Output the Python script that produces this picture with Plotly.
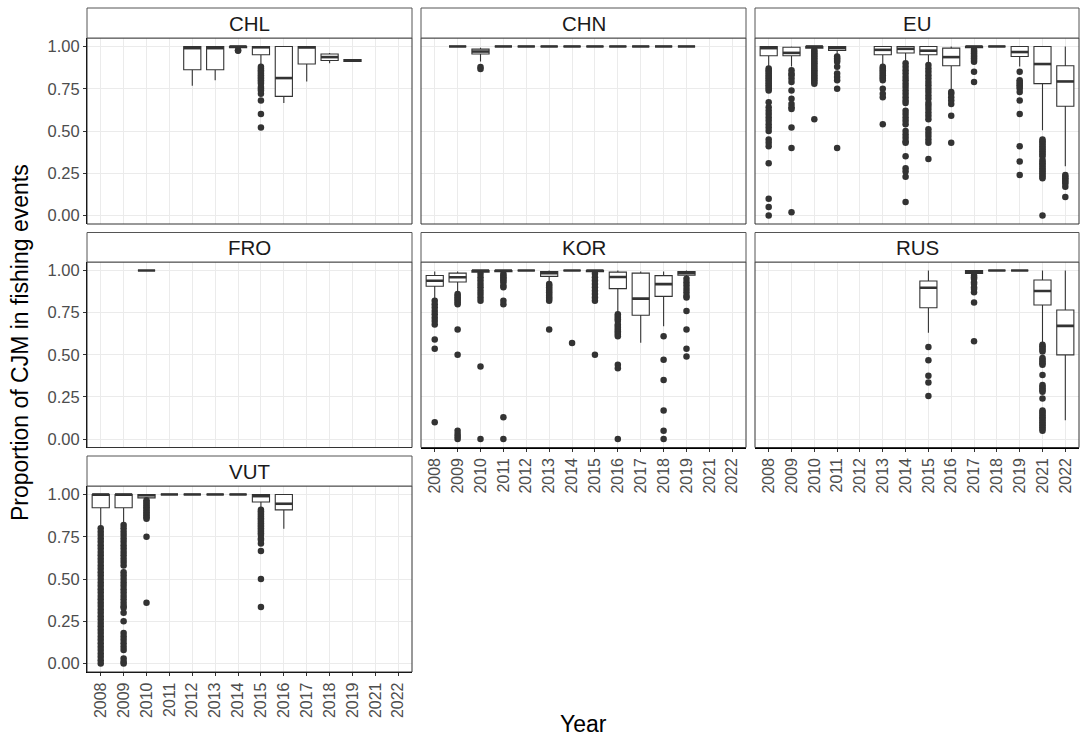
import plotly.graph_objects as go

# ---- data: proportion of CJM in fishing events, by flag and year ----
YEARS = ["2008", "2009", "2010", "2011", "2012", "2013", "2014",
         "2015", "2016", "2017", "2018", "2019", "2021", "2022"]
Y_TICKS = [0.0, 0.25, 0.5, 0.75, 1.0]

CHL_YEARS = ["2012", "2013", "2014", "2015", "2016", "2017", "2018", "2019"]
CHL_Q1 = [0.862, 0.862, 0.993, 0.951, 0.705, 0.896, 0.917, 0.912]
CHL_MED = [0.990, 0.990, 1.000, 0.995, 0.813, 0.994, 0.937, 0.917]
CHL_Q3 = [1.000, 1.000, 1.000, 1.000, 1.000, 1.000, 0.955, 0.922]
CHL_LO = [0.768, 0.800, 0.990, 0.892, 0.665, 0.793, 0.900, 0.912]
CHL_HI = [1.000, 1.000, 1.000, 1.000, 1.000, 1.000, 0.962, 0.922]
CHL_OUT = {
    "2014": [0.978, 0.975],
    "2015": [0.88, 0.87, 0.86, 0.85, 0.84, 0.83, 0.82, 0.81, 0.80, 0.79,
             0.78, 0.76, 0.75, 0.74, 0.72, 0.68, 0.60, 0.52],
}

CHN_YEARS = ["2009", "2010", "2011", "2012", "2013", "2014", "2015",
             "2016", "2017", "2018", "2019"]
CHN_Q1 = [1.0, 0.955, 1.0, 1.0, 1.0, 1.0, 1.0, 1.0, 1.0, 1.0, 1.0]
CHN_MED = [1.0, 0.970, 1.0, 1.0, 1.0, 1.0, 1.0, 1.0, 1.0, 1.0, 1.0]
CHN_Q3 = [1.0, 0.984, 1.0, 1.0, 1.0, 1.0, 1.0, 1.0, 1.0, 1.0, 1.0]
CHN_LO = [1.0, 0.911, 1.0, 1.0, 1.0, 1.0, 1.0, 1.0, 1.0, 1.0, 1.0]
CHN_HI = [1.0, 0.992, 1.0, 1.0, 1.0, 1.0, 1.0, 1.0, 1.0, 1.0, 1.0]
CHN_OUT = {"2010": [0.878, 0.866]}

EU_YEARS = ["2008", "2009", "2010", "2011", "2013", "2014", "2015",
            "2016", "2017", "2018", "2019", "2021", "2022"]
EU_Q1 = [0.945, 0.945, 0.990, 0.976, 0.951, 0.961, 0.951, 0.886, 0.992, 1.0, 0.941, 0.780, 0.646]
EU_MED = [0.990, 0.962, 1.000, 0.990, 0.980, 0.986, 0.975, 0.937, 1.000, 1.0, 0.967, 0.896, 0.793]
EU_Q3 = [1.000, 0.995, 1.000, 1.000, 1.000, 1.000, 1.000, 0.990, 1.000, 1.0, 1.000, 1.000, 0.886]
EU_LO = [0.882, 0.882, 0.985, 0.951, 0.892, 0.911, 0.900, 0.744, 0.985, 1.0, 0.882, 0.504, 0.291]
EU_HI = [1.0, 1.0, 1.0, 1.0, 1.0, 1.0, 1.0, 1.0, 1.0, 1.0, 1.0, 1.0, 1.0]
EU_OUT = {
    "2008": [0.87, 0.86, 0.85, 0.84, 0.83, 0.82, 0.81, 0.80, 0.79, 0.78, 0.77,
             0.76, 0.75, 0.74, 0.67, 0.64, 0.62, 0.60, 0.58, 0.56, 0.54, 0.52,
             0.50, 0.45, 0.43, 0.41, 0.31, 0.10, 0.05, 0.0],
    "2009": [0.86, 0.84, 0.83, 0.81, 0.79, 0.74, 0.69, 0.66, 0.64, 0.63,
             0.52, 0.40, 0.02],
    "2010": [0.98, 0.97, 0.96, 0.95, 0.94, 0.93, 0.92, 0.91, 0.90, 0.89, 0.88,
             0.87, 0.86, 0.85, 0.84, 0.83, 0.82, 0.81, 0.80, 0.79, 0.78, 0.57],
    "2011": [0.94, 0.93, 0.92, 0.91, 0.88, 0.84, 0.82, 0.80, 0.75, 0.40],
    "2013": [0.88, 0.87, 0.86, 0.85, 0.84, 0.83, 0.82, 0.81, 0.80, 0.75,
             0.72, 0.70, 0.54],
    "2014": [0.90, 0.88, 0.86, 0.84, 0.82, 0.80, 0.78, 0.76, 0.74, 0.72, 0.70,
             0.68, 0.665, 0.62, 0.60, 0.58, 0.56, 0.54, 0.50, 0.48, 0.46, 0.44,
             0.43, 0.35, 0.28, 0.26, 0.23, 0.08],
    "2015": [0.89, 0.87, 0.85, 0.83, 0.81, 0.79, 0.77, 0.75, 0.73, 0.71, 0.69,
             0.665, 0.65, 0.63, 0.61, 0.59, 0.57, 0.51, 0.49, 0.47, 0.45, 0.43,
             0.335],
    "2016": [0.73, 0.72, 0.70, 0.68, 0.66, 0.59, 0.43],
    "2017": [0.98, 0.97, 0.96, 0.95, 0.94, 0.93, 0.92, 0.91, 0.85, 0.79],
    "2019": [0.85, 0.80, 0.79, 0.78, 0.77, 0.76, 0.75, 0.73, 0.68, 0.60,
             0.41, 0.32, 0.24],
    "2021": [0.45, 0.44, 0.43, 0.42, 0.41, 0.40, 0.39, 0.38, 0.37, 0.36, 0.35,
             0.33, 0.32, 0.31, 0.30, 0.29, 0.28, 0.27, 0.26, 0.25, 0.24, 0.23,
             0.22, 0.0],
    "2022": [0.24, 0.23, 0.22, 0.21, 0.20, 0.19, 0.17, 0.11],
}

FRO_YEARS = ["2010"]
FRO_Q1 = [1.0]
FRO_MED = [1.0]
FRO_Q3 = [1.0]
FRO_LO = [1.0]
FRO_HI = [1.0]
FRO_OUT = {}

KOR_YEARS = ["2008", "2009", "2010", "2011", "2012", "2013", "2014",
             "2015", "2016", "2017", "2018", "2019"]
KOR_Q1 = [0.906, 0.931, 0.990, 0.992, 1.0, 0.965, 1.0, 0.992, 0.892, 0.734, 0.846, 0.972]
KOR_MED = [0.939, 0.960, 1.000, 1.000, 1.0, 0.984, 1.0, 1.000, 0.961, 0.833, 0.919, 0.985]
KOR_Q3 = [0.970, 0.984, 1.000, 1.000, 1.0, 0.994, 1.0, 1.000, 0.990, 0.984, 0.969, 0.994]
KOR_LO = [0.827, 0.876, 0.985, 0.985, 1.0, 0.925, 1.0, 0.985, 0.738, 0.571, 0.669, 0.955]
KOR_HI = [0.994, 0.994, 1.000, 1.000, 1.0, 1.000, 1.0, 1.000, 1.000, 0.994, 0.994, 1.000]
KOR_OUT = {
    "2008": [0.82, 0.80, 0.78, 0.76, 0.74, 0.72, 0.70, 0.68, 0.59, 0.535, 0.10],
    "2009": [0.86, 0.85, 0.84, 0.83, 0.82, 0.81, 0.80, 0.65, 0.50, 0.05,
             0.03, 0.015, 0.0],
    "2010": [0.98, 0.96, 0.94, 0.92, 0.90, 0.88, 0.86, 0.84, 0.82, 0.43, 0.0],
    "2011": [0.98, 0.97, 0.96, 0.95, 0.94, 0.93, 0.91, 0.90, 0.82, 0.80,
             0.13, 0.0],
    "2013": [0.92, 0.91, 0.90, 0.89, 0.88, 0.87, 0.86, 0.85, 0.84, 0.83,
             0.82, 0.65],
    "2014": [0.57],
    "2015": [0.98, 0.96, 0.94, 0.92, 0.90, 0.88, 0.86, 0.84, 0.82, 0.50],
    "2016": [0.74, 0.73, 0.72, 0.71, 0.70, 0.68, 0.67, 0.66, 0.65, 0.64,
             0.63, 0.62, 0.61, 0.44, 0.42, 0.0],
    "2018": [0.61, 0.47, 0.35, 0.17, 0.05, 0.0],
    "2019": [0.95, 0.93, 0.91, 0.89, 0.87, 0.85, 0.84, 0.76, 0.65, 0.535, 0.49],
}

RUS_YEARS = ["2015", "2017", "2018", "2019", "2021", "2022"]
RUS_Q1 = [0.779, 0.982, 1.0, 1.0, 0.795, 0.499]
RUS_MED = [0.897, 0.993, 1.0, 1.0, 0.878, 0.671]
RUS_Q3 = [0.937, 1.000, 1.0, 1.0, 0.943, 0.765]
RUS_LO = [0.631, 0.975, 1.0, 1.0, 0.572, 0.112]
RUS_HI = [1.0, 1.0, 1.0, 1.0, 1.0, 1.0]
RUS_OUT = {
    "2015": [0.546, 0.467, 0.375, 0.335, 0.256],
    "2017": [0.97, 0.96, 0.95, 0.93, 0.92, 0.90, 0.89, 0.87, 0.81, 0.58],
    "2021": [0.56, 0.55, 0.54, 0.53, 0.52, 0.48, 0.47, 0.46, 0.45, 0.44,
             0.38, 0.32, 0.31, 0.30, 0.29, 0.28, 0.24, 0.17, 0.16, 0.15,
             0.14, 0.13, 0.12, 0.11, 0.10, 0.09, 0.08, 0.07, 0.06, 0.05],
}

VUT_YEARS = ["2008", "2009", "2010", "2011", "2012", "2013", "2014", "2015", "2016"]
VUT_Q1 = [0.921, 0.921, 0.980, 1.0, 1.0, 1.0, 1.0, 0.955, 0.909]
VUT_MED = [1.000, 1.000, 0.995, 1.0, 1.0, 1.0, 1.0, 0.990, 0.945]
VUT_Q3 = [1.000, 1.000, 1.000, 1.0, 1.0, 1.0, 1.0, 1.000, 1.000]
VUT_LO = [0.803, 0.815, 0.968, 1.0, 1.0, 1.0, 1.0, 0.921, 0.797]
VUT_HI = [1.0, 1.0, 1.0, 1.0, 1.0, 1.0, 1.0, 1.0, 1.0]
VUT_OUT = {
    "2008": [0.80, 0.78, 0.76, 0.74, 0.72, 0.70, 0.68, 0.66, 0.64, 0.62, 0.60,
             0.58, 0.56, 0.54, 0.52, 0.50, 0.48, 0.46, 0.44, 0.42, 0.40, 0.38,
             0.36, 0.34, 0.32, 0.30, 0.28, 0.26, 0.24, 0.22, 0.20, 0.18, 0.16,
             0.14, 0.12, 0.10, 0.08, 0.06, 0.04, 0.02, 0.00],
    "2009": [0.82, 0.80, 0.78, 0.76, 0.74, 0.72, 0.70, 0.68, 0.66, 0.64, 0.62,
             0.60, 0.58, 0.54, 0.52, 0.50, 0.48, 0.46, 0.44, 0.42, 0.40, 0.38,
             0.36, 0.34, 0.33, 0.30, 0.25, 0.18, 0.16, 0.14, 0.12, 0.10, 0.08,
             0.03, 0.01, 0.00],
    "2010": [0.965, 0.955, 0.945, 0.935, 0.925, 0.915, 0.905, 0.895, 0.885,
             0.875, 0.865, 0.856, 0.75, 0.36],
    "2015": [0.91, 0.90, 0.89, 0.88, 0.87, 0.86, 0.85, 0.84, 0.83, 0.82, 0.81,
             0.80, 0.79, 0.78, 0.77, 0.76, 0.74, 0.73, 0.71, 0.665, 0.50, 0.335],
}

# facet name, stats, grid cell (row, col)
PANELS = [
    ("CHL", CHL_YEARS, CHL_Q1, CHL_MED, CHL_Q3, CHL_LO, CHL_HI, CHL_OUT, 0, 0),
    ("CHN", CHN_YEARS, CHN_Q1, CHN_MED, CHN_Q3, CHN_LO, CHN_HI, CHN_OUT, 0, 1),
    ("EU", EU_YEARS, EU_Q1, EU_MED, EU_Q3, EU_LO, EU_HI, EU_OUT, 0, 2),
    ("FRO", FRO_YEARS, FRO_Q1, FRO_MED, FRO_Q3, FRO_LO, FRO_HI, FRO_OUT, 1, 0),
    ("KOR", KOR_YEARS, KOR_Q1, KOR_MED, KOR_Q3, KOR_LO, KOR_HI, KOR_OUT, 1, 1),
    ("RUS", RUS_YEARS, RUS_Q1, RUS_MED, RUS_Q3, RUS_LO, RUS_HI, RUS_OUT, 1, 2),
    ("VUT", VUT_YEARS, VUT_Q1, VUT_MED, VUT_Q3, VUT_LO, VUT_HI, VUT_OUT, 2, 0),
]

# ---- layout geometry (pixels in a 1080 x 740 page) ----
W, H = 1080, 740
COL_X = [(87, 412), (421, 746), (755, 1079)]
ROW_STRIP = [(8, 38), (232.5, 262), (456, 486)]
ROW_PANEL = [(38, 224), (262, 447.5), (486, 672)]
BOX_W = 0.75                       # box width, in category units
CAT_PX = (COL_X[0][1] - COL_X[0][0]) / (len(YEARS) + 0.2)

FONT = "Liberation Sans, Arial, sans-serif"
INK = "#333333"
TICK_TXT = "#4d4d4d"
GRID = "#ebebeb"


def px_x(v):
    return v / W


def px_y(v):
    return 1 - v / H


fig = go.Figure()
layout = dict(
    width=W, height=H,
    margin=dict(l=0, r=0, t=0, b=0),
    paper_bgcolor="white", plot_bgcolor="white",
    showlegend=False,
    font=dict(family=FONT, color="#1a1a1a"),
)
shapes, annotations = [], []

# panels that carry axes (facet_wrap style)
X_AXIS_PANELS = {"KOR", "RUS", "VUT"}
Y_AXIS_COL = 0

for i, (name, yrs, q1, med, q3, lo, hi, outl, r, c) in enumerate(PANELS):
    n = "" if i == 0 else str(i + 1)
    xa, ya = "x" + n, "y" + n
    x0, x1 = COL_X[c]
    pt, pb = ROW_PANEL[r]
    st, sb = ROW_STRIP[r]
    pos = [YEARS.index(y) for y in yrs]

    fig.add_trace(go.Box(
        x=pos, q1=q1, median=med, q3=q3, lowerfence=lo, upperfence=hi,
        width=BOX_W, whiskerwidth=0, boxpoints=False,
        fillcolor="white", line=dict(color=INK, width=1.1),
        xaxis=xa, yaxis=ya, hoverinfo="skip",
    ))
    # heavier median bar; the line-ew glyph is 1.4x its marker size long
    fig.add_trace(go.Scatter(
        x=pos, y=med, mode="markers",
        marker=dict(symbol="line-ew", size=BOX_W * CAT_PX / 1.4,
                    line=dict(color=INK, width=2.6)),
        xaxis=xa, yaxis=ya, hoverinfo="skip",
    ))
    ox, oy = [], []
    for yr, vals in outl.items():
        ox += [YEARS.index(yr)] * len(vals)
        oy += vals
    if ox:
        fig.add_trace(go.Scatter(
            x=ox, y=oy, mode="markers",
            marker=dict(size=6.5, color=INK, line=dict(width=0)),
            xaxis=xa, yaxis=ya, hoverinfo="skip",
        ))

    show_x = name in X_AXIS_PANELS
    show_y = c == Y_AXIS_COL
    layout["xaxis" + n] = dict(
        domain=[px_x(x0), px_x(x1)], anchor=ya,
        range=[-0.6, len(YEARS) - 0.4],
        tickmode="array", tickvals=list(range(len(YEARS))), ticktext=YEARS,
        showticklabels=show_x, tickangle=-90,
        ticks="outside" if show_x else "", ticklen=3, tickcolor=INK,
        tickfont=dict(family=FONT, size=16, color=TICK_TXT),
        showgrid=True, gridcolor=GRID, gridwidth=1, zeroline=False,
        showline=show_x, linecolor="black", linewidth=1.2,
        fixedrange=True,
    )
    layout["yaxis" + n] = dict(
        domain=[px_y(pb), px_y(pt)], anchor=xa,
        range=[-0.05, 1.05],
        tickmode="array", tickvals=Y_TICKS, tickformat=".2f",
        showticklabels=show_y,
        ticks="outside" if show_y else "", ticklen=3, tickcolor=INK,
        tickfont=dict(family=FONT, size=16.5, color=TICK_TXT),
        showgrid=True, gridcolor=GRID, gridwidth=1, zeroline=False,
        showline=show_y, linecolor="black", linewidth=1.2,
        fixedrange=True,
    )

    # panel border
    shapes.append(dict(type="rect", xref="paper", yref="paper",
                       x0=px_x(x0), x1=px_x(x1), y0=px_y(pb), y1=px_y(pt),
                       line=dict(color=INK, width=1), fillcolor="rgba(0,0,0,0)",
                       layer="above"))
    # facet strip
    shapes.append(dict(type="rect", xref="paper", yref="paper",
                       x0=px_x(x0), x1=px_x(x1), y0=px_y(sb), y1=px_y(st),
                       line=dict(color="#555555", width=1), fillcolor="white",
                       layer="above"))
    annotations.append(dict(text=name, xref="paper", yref="paper",
                            x=px_x((x0 + x1) / 2), y=px_y((st + sb) / 2),
                            xanchor="center", yanchor="middle", showarrow=False,
                            font=dict(family=FONT, size=20.5, color="#1a1a1a")))

# axis titles
annotations.append(dict(text="Year", xref="paper", yref="paper",
                        x=px_x(583), y=px_y(739), xanchor="center", yanchor="bottom",
                        showarrow=False, font=dict(family=FONT, size=23, color="black")))
annotations.append(dict(text="Proportion of CJM in fishing events", xref="paper", yref="paper",
                        x=px_x(20), y=px_y(343), xanchor="center", yanchor="middle",
                        textangle=-90, showarrow=False,
                        font=dict(family=FONT, size=23, color="black")))

layout["shapes"] = shapes
layout["annotations"] = annotations
fig.update_layout(**layout)

fig.write_html("out.html")
